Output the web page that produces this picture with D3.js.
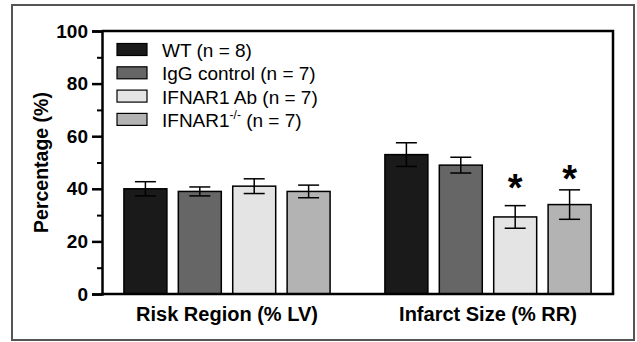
<!DOCTYPE html>
<html lang="en">
<head>
<meta charset="UTF-8">
<script src="https://d3js.org/d3.v7.min.js"></script>
<style>
    body { margin: 0; background: white; }
    text { font-family: "Liberation Sans", Arial, sans-serif; }
</style>
</head>
<body>
<script>
    // data
    var groups = ["Risk Region (% LV)", "Infarct Size (% RR)"];
    var seriesNames = ["WT (n = 8)", "IgG control (n = 7)", "IFNAR1 Ab (n = 7)", "IFNAR1"];
    var seriesColors = ["#1a1a1a", "#666666", "#e4e4e4", "#b3b3b3"];
    var riskMeans = [40, 39, 41, 39];
    var riskErrors = [2.7, 1.7, 2.8, 2.4];
    var infarctMeans = [53, 49, 29.3, 34];
    var infarctErrors = [4.5, 3, 4.3, 5.6];
    var infarctStars = [null, null, 43.5, 46.6];
    var yTicks = [0, 20, 40, 60, 80, 100];

    var canvasWidth = 637, canvasHeight = 342;
    var plotLeft = 102, plotRight = 613, plotTop = 31, plotBottom = 294;

    var svg = d3.select("body").append("svg")
        .attr("width", canvasWidth)
        .attr("height", canvasHeight);

    // outer frame
    svg.append("rect")
        .attr("x", 12).attr("y", 5)
        .attr("width", 622).attr("height", 335)
        .attr("fill", "none")
        .attr("stroke", "#555")
        .attr("stroke-width", 2);

    var yScale = d3.scaleLinear().domain([0, 100]).range([plotBottom, plotTop]);
    var xScale = d3.scaleBand().domain(groups).range([plotLeft, plotRight])
        .paddingInner(0.21).paddingOuter(0.084);
    var xInner = d3.scaleBand().domain(d3.range(4)).range([0, xScale.bandwidth()])
        .paddingInner(0.21).paddingOuter(0);

    var rows = [];
    groups.forEach(function(g, gi) {
        var means = gi == 0 ? riskMeans : infarctMeans;
        var errs = gi == 0 ? riskErrors : infarctErrors;
        for (var i = 0; i < 4; i++) {
            rows.push({group: g, s: i, mean: means[i], err: errs[i],
                star: gi == 0 ? null : infarctStars[i]});
        }
    });

    var bars = svg.append("g");
    bars.selectAll("rect").data(rows).enter().append("rect")
        .attr("x", function(d) { return xScale(d.group) + xInner(d.s); })
        .attr("y", function(d) { return yScale(d.mean); })
        .attr("width", xInner.bandwidth())
        .attr("height", function(d) { return yScale(0) - yScale(d.mean); })
        .attr("fill", function(d) { return seriesColors[d.s]; })
        .attr("stroke", "black")
        .attr("stroke-width", 1.5);

    // error bars (both directions, drawn over the bar)
    var eb = svg.append("g").attr("stroke", "black").attr("stroke-width", 1.5);
    rows.forEach(function(d) {
        var cx = xScale(d.group) + xInner(d.s) + xInner.bandwidth() / 2;
        var y1 = yScale(d.mean + d.err), y2 = yScale(d.mean - d.err);
        eb.append("line").attr("x1", cx).attr("x2", cx).attr("y1", y1).attr("y2", y2);
        eb.append("line").attr("x1", cx - 10.5).attr("x2", cx + 10.5).attr("y1", y1).attr("y2", y1);
        eb.append("line").attr("x1", cx - 10.5).attr("x2", cx + 10.5).attr("y1", y2).attr("y2", y2);
        if (d.star != null) {
            svg.append("text")
                .attr("x", cx)
                .attr("y", yScale(d.star) + 21)
                .attr("text-anchor", "middle")
                .attr("font-size", "38px")
                .attr("font-weight", "bold")
                .text("*");
        }
    });

    // plot frame: top and right
    svg.append("path")
        .attr("d", "M" + plotLeft + "," + plotTop + "H" + plotRight + "V" + plotBottom)
        .attr("fill", "none").attr("stroke", "black").attr("stroke-width", 2.5);

    // x axis line
    svg.append("line")
        .attr("x1", plotLeft - 1).attr("x2", plotRight + 1.2)
        .attr("y1", plotBottom).attr("y2", plotBottom)
        .attr("stroke", "black").attr("stroke-width", 2.5);

    // y axis with minor ticks
    var yAxis = svg.append("g").attr("transform", "translate(" + plotLeft + ",0)");
    yAxis.append("g")
        .call(d3.axisLeft(yScale).tickValues(d3.range(10, 100, 20)).tickSize(5).tickFormat(""))
        .call(function(g) { g.select(".domain").remove(); })
        .selectAll("line").attr("stroke-width", 2);
    yAxis.append("g")
        .call(d3.axisLeft(yScale).tickValues(yTicks).tickSize(10).tickPadding(4))
        .call(function(g) {
            g.select(".domain").attr("stroke-width", 2.5);
            g.selectAll("line").attr("stroke-width", 2.5);
            g.selectAll("text")
                .attr("font-size", "19px")
                .attr("font-weight", "bold")
                .attr("fill", "black")
                .attr("font-family", "Liberation Sans, Arial, sans-serif");
        });

    // axis titles
    svg.append("text")
        .attr("transform", "translate(48," + ((plotTop + plotBottom) / 2) + ") rotate(-90)")
        .attr("text-anchor", "middle")
        .attr("font-size", "19.5px")
        .attr("font-weight", "bold")
        .text("Percentage (%)");

    svg.append("g").selectAll("text").data(groups).enter().append("text")
        .attr("x", function(d) { return xScale(d) + xScale.bandwidth() / 2; })
        .attr("y", 321)
        .attr("text-anchor", "middle")
        .attr("font-size", "20px")
        .attr("font-weight", "bold")
        .text(function(d) { return d; });

    // legend
    var legend = svg.append("g").attr("transform", "translate(117,43.5)");
    seriesNames.forEach(function(name, i) {
        var row = legend.append("g").attr("transform", "translate(0," + (i * 23.3) + ")");
        row.append("rect")
            .attr("width", 30).attr("height", 12)
            .attr("fill", seriesColors[i])
            .attr("stroke", "black").attr("stroke-width", 1.2);
        var t = row.append("text")
            .attr("x", 45).attr("y", 13.5)
            .attr("font-size", "19px")
            .text(name);
        if (i == 3) {
            t.append("tspan").attr("font-size", "12px").attr("dy", -8).text("-/-");
            t.append("tspan").attr("dy", 8).text(" (n = 7)");
        }
    });
</script>
</body>
</html>
